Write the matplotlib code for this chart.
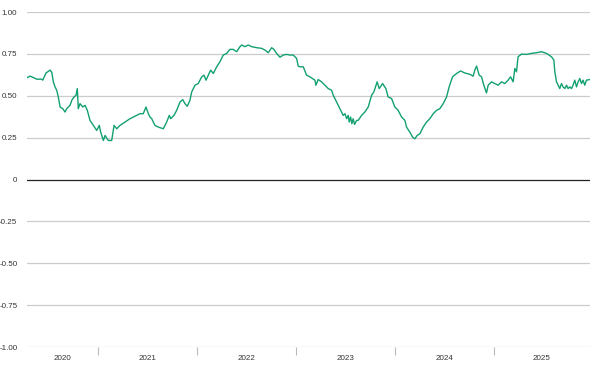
import matplotlib
matplotlib.use("Agg")
from matplotlib import pyplot as plt
from matplotlib.ticker import FixedLocator, NullFormatter

# decimal years and values
t_years = [2020.292, 2020.319, 2020.352, 2020.386, 2020.437, 2020.447, 2020.480, 2020.521,
           2020.538, 2020.554, 2020.571, 2020.588, 2020.604, 2020.622, 2020.649, 2020.672,
           2020.689, 2020.723, 2020.740, 2020.763, 2020.783, 2020.796, 2020.806, 2020.823,
           2020.851, 2020.874, 2020.897, 2020.924, 2020.958, 2020.992, 2021.018, 2021.032,
           2021.059, 2021.076, 2021.109, 2021.143, 2021.167, 2021.194, 2021.227, 2021.278,
           2021.328, 2021.361, 2021.396, 2021.429, 2021.462, 2021.489, 2021.513, 2021.530,
           2021.547, 2021.580, 2021.614, 2021.664, 2021.698, 2021.725, 2021.739, 2021.772,
           2021.799, 2021.833, 2021.860, 2021.883, 2021.906, 2021.933, 2021.951, 2021.984,
           2022.017, 2022.052, 2022.075, 2022.095, 2022.118, 2022.142, 2022.169, 2022.203,
           2022.236, 2022.269, 2022.304, 2022.337, 2022.370, 2022.405, 2022.438, 2022.455,
           2022.488, 2022.522, 2022.556, 2022.607, 2022.657, 2022.690, 2022.724, 2022.758,
           2022.781, 2022.808, 2022.842, 2022.875, 2022.909, 2022.943, 2022.976, 2023.010,
           2023.026, 2023.043, 2023.077, 2023.111, 2023.144, 2023.195, 2023.205, 2023.228,
           2023.262, 2023.296, 2023.329, 2023.363, 2023.380, 2023.414, 2023.447, 2023.480,
           2023.498, 2023.515, 2023.531, 2023.541, 2023.555, 2023.568, 2023.581, 2023.595,
           2023.616, 2023.632, 2023.666, 2023.699,
           2023.733, 2023.767, 2023.790, 2023.823, 2023.844, 2023.878, 2023.911, 2023.934,
           2023.969, 2024.002, 2024.035, 2024.070, 2024.103, 2024.120, 2024.153, 2024.181,
           2024.204, 2024.227, 2024.254, 2024.288, 2024.322, 2024.355, 2024.389, 2024.423,
           2024.456, 2024.490, 2024.524, 2024.550, 2024.584, 2024.625, 2024.665, 2024.708,
           2024.759, 2024.792, 2024.809, 2024.827, 2024.853, 2024.877, 2024.900, 2024.927,
           2024.944, 2024.978, 2025.011, 2025.044, 2025.079, 2025.112, 2025.145, 2025.170,
           2025.196, 2025.213, 2025.230, 2025.246, 2025.281, 2025.331, 2025.382, 2025.432,
           2025.483, 2025.533, 2025.583, 2025.607, 2025.617,
           2025.634, 2025.650, 2025.667, 2025.684, 2025.700, 2025.718, 2025.735, 2025.751,
           2025.768, 2025.785, 2025.801, 2025.818, 2025.836, 2025.852, 2025.869, 2025.886,
           2025.902, 2025.919, 2025.936, 2025.970]

corr = [0.609, 0.617, 0.609, 0.599, 0.599, 0.593, 0.636, 0.653,
        0.640, 0.583, 0.553, 0.533, 0.493, 0.433, 0.423, 0.403,
        0.423, 0.443, 0.473, 0.493, 0.503, 0.543, 0.423, 0.453,
        0.433, 0.443, 0.413, 0.353, 0.323, 0.293, 0.323, 0.283,
        0.233, 0.263, 0.233, 0.233, 0.323, 0.303, 0.323, 0.343,
        0.363, 0.373, 0.383, 0.393, 0.393, 0.433, 0.393, 0.373,
        0.363, 0.323, 0.313, 0.303, 0.343, 0.383, 0.363, 0.383,
        0.413, 0.463, 0.477, 0.453, 0.437, 0.473, 0.523, 0.563,
        0.573, 0.613, 0.623, 0.593, 0.623, 0.653, 0.633, 0.673,
        0.703, 0.743, 0.753, 0.777, 0.777, 0.763, 0.793, 0.803,
        0.793, 0.803, 0.793, 0.787, 0.783, 0.773, 0.757, 0.787,
        0.777, 0.753, 0.730, 0.743, 0.747, 0.743, 0.743, 0.723,
        0.677, 0.673, 0.673, 0.623, 0.613, 0.593, 0.563, 0.597,
        0.583, 0.563, 0.543, 0.533, 0.503, 0.463, 0.423, 0.383,
        0.393, 0.363, 0.383, 0.343, 0.373, 0.333, 0.363, 0.329,
        0.353, 0.353, 0.383, 0.403,
        0.433, 0.503, 0.523, 0.583, 0.543, 0.573, 0.543, 0.493,
        0.483, 0.433, 0.413, 0.373, 0.353, 0.313, 0.283, 0.253,
        0.243, 0.263, 0.273, 0.313, 0.343, 0.363, 0.393, 0.413,
        0.423, 0.453, 0.493, 0.553, 0.613, 0.633, 0.648, 0.636,
        0.628, 0.617, 0.653, 0.677, 0.623, 0.613, 0.563, 0.517,
        0.563, 0.583, 0.573, 0.563, 0.583, 0.573, 0.593, 0.613,
        0.583, 0.663, 0.643, 0.733, 0.749, 0.747, 0.753, 0.757,
        0.763, 0.753, 0.733, 0.713, 0.643,
        0.583, 0.563, 0.543, 0.573, 0.553, 0.543, 0.563, 0.543,
        0.553, 0.543, 0.563, 0.593, 0.553, 0.583, 0.603, 0.573,
        0.593, 0.563, 0.593, 0.597]

years = [2020, 2021, 2022, 2023, 2024, 2025]
y_ticks = [1.0, 0.75, 0.5, 0.25, 0, -0.25, -0.5, -0.75, -1.0]
y_labels = ["1.00", "0.75", "0.50", "0.25", "0", "-0.25", "-0.50", "-0.75", "-1.00"]

plt.rcParams['font.family'] = ['Liberation Sans', 'DejaVu Sans']

fig = plt.figure(figsize=(6, 3.72), dpi=100)
ax = fig.add_axes([0.045, 0.0672, 0.938, 0.9005])

x_min, x_max = 2020.288, 2025.970
ax.set_xlim(x_min, x_max)
ax.set_ylim(-1.0, 1.0)

for v in y_ticks:
    if v == 0:
        continue
    ax.axhline(v, color="#cccccc", lw=0.9, zorder=1)
ax.axhline(0, color="#222222", lw=0.9, zorder=2)

ax.plot(t_years, corr, color="#12a070", lw=1.0, zorder=3)

ax.set_yticks(y_ticks)
ax.set_yticklabels(y_labels)
ax.tick_params(axis="y", length=0, pad=7, labelsize=5.8, labelcolor="#333333")

# year boundaries as tick marks, labels centred on the visible part of each year
ax.xaxis.set_major_locator(FixedLocator(years[1:]))
ax.xaxis.set_major_formatter(NullFormatter())
centers = []
for y in years:
    lo = max(y, x_min)
    hi = min(y + 1, x_max)
    centers.append((lo + hi) / 2)
ax.xaxis.set_minor_locator(FixedLocator(centers))
ax.set_xticklabels([str(y) for y in years], minor=True)
ax.tick_params(axis="x", which="major", length=6, width=0.8, color="#bbbbbb")
ax.tick_params(axis="x", which="minor", length=0, pad=6, labelsize=5.8, labelcolor="#333333")

for s in ax.spines.values():
    s.set_visible(False)

fig.savefig("out.png", dpi=100)
